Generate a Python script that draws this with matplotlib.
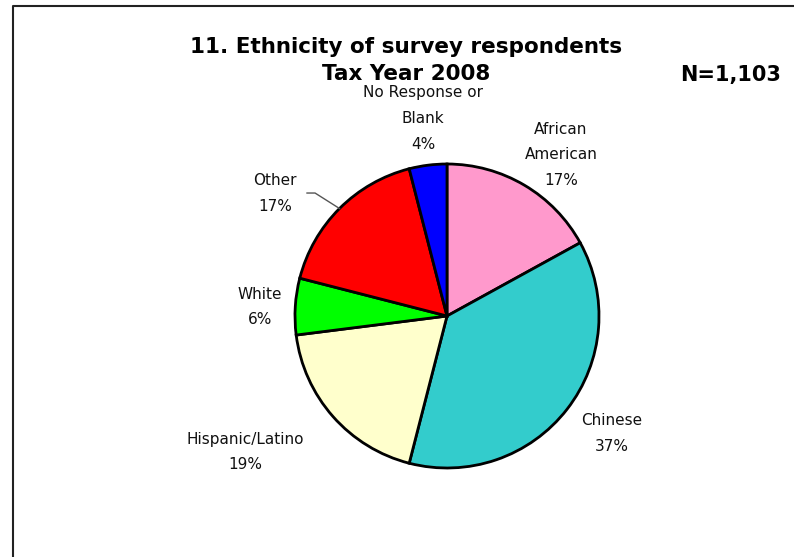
import matplotlib

matplotlib.use("Agg")
import matplotlib.pyplot as plt
import numpy as np
from matplotlib.lines import Line2D

# survey breakdown, clockwise from 12 o'clock
groups = ["African\nAmerican", "Chinese", "Hispanic/Latino", "White", "Other", "No Response or\nBlank"]
shares = [17, 37, 19, 6, 17, 4]
colors = ["#FF99CC", "#33CCCC", "#FFFFCC", "#00FF00", "#FF0000", "#0000FF"]
n_total = "1,103"

# label anchors in pie-radius units (centre of each text block)
label_xy = [(0.75, 1.06), (1.086, -0.773), (-1.329, -0.895), (-1.23, 0.059), (-1.13, 0.806), (-0.158, 1.30)]

W, H = 794, 557
fig = plt.figure(figsize=(W / 100, H / 100), dpi=100)
fig.patch.set_facecolor("white")
plt.rcParams["font.family"] = ["DejaVu Sans"]

# pie centre (447, 316) px, radius 152 px
cx, cy, r = 447, 316, 152
ax = fig.add_axes([(cx - r) / W, (H - cy - r) / H, 2 * r / W, 2 * r / H])
wedges, _ = ax.pie(
    shares,
    colors=colors,
    startangle=90,
    counterclock=False,
    radius=1.0,
    wedgeprops=dict(edgecolor="black", linewidth=2.0),
)
ax.set_xlim(-1, 1)
ax.set_ylim(-1, 1)
ax.set_aspect("equal")
ax.axis("off")

for name, val, (lx, ly) in zip(groups, shares, label_xy):
    ax.text(lx, ly, f"{name}\n{val}%", ha="center", va="center", fontsize=11,
            linespacing=1.9, color="#111111", clip_on=False)

# leader line for the "Other" slice
w = wedges[4]
mid = np.deg2rad((w.theta1 + w.theta2) / 2)
ex, ey = 1.0 * np.cos(mid), 1.0 * np.sin(mid)
ax.add_line(Line2D([-0.921, -0.868, ex], [0.809, 0.809, ey], color="#555555", linewidth=1.0, clip_on=False))

fig.text(406 / W, 1 - 60.5 / H, "11. Ethnicity of survey respondents\nTax Year 2008",
         ha="center", va="center", fontsize=15.5, fontweight="bold", linespacing=1.38)
fig.text(731 / W, 1 - 75 / H, f"N={n_total}", ha="center", va="center", fontsize=15, fontweight="bold")

# chart frame (top and left edges only are inside the image)
fig.add_artist(Line2D([13 / W, 13 / W, 1.0], [0.0, 1 - 5.5 / H, 1 - 5.5 / H], color="#222222",
                      linewidth=1.5, transform=fig.transFigure))

fig.savefig("out.png", dpi=100)
